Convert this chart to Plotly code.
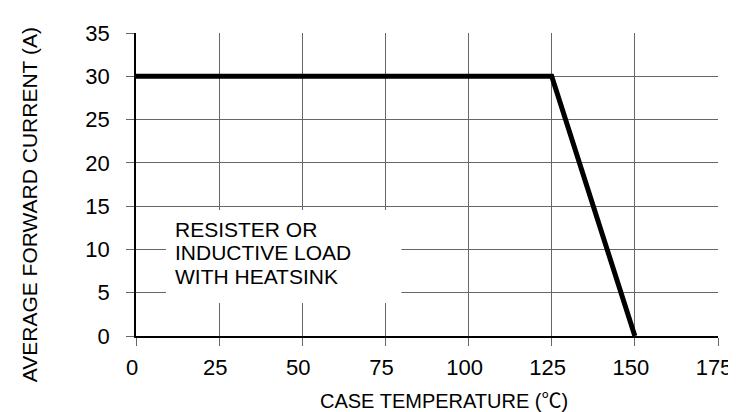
import plotly.graph_objects as go

# Data
temperature = [0, 125, 150]
current = [30, 30, 0]
x_ticks = [0, 25, 50, 75, 100, 125, 150, 175]
y_ticks = [0, 5, 10, 15, 20, 25, 30, 35]
note_lines = ["RESISTER OR", "INDUCTIVE LOAD", "WITH HEATSINK"]
note_y = [12.36, 9.59, 6.82]
x_title = "CASE TEMPERATURE (℃)"
y_title = "AVERAGE FORWARD CURRENT (A)"

FONT = "Liberation Sans, Arial, Noto Sans CJK SC, sans-serif"

fig = go.Figure()
fig.add_trace(go.Scatter(
    x=temperature, y=current, mode="lines",
    line=dict(color="black", width=5), showlegend=False,
    hoverinfo="skip"))

axis_common = dict(
    showgrid=True, gridcolor="#666666", gridwidth=1,
    showline=True, linecolor="black", linewidth=1.5,
    ticks="outside", ticklen=8, tickcolor="#666666", tickwidth=1,
    tickfont=dict(family=FONT, size=22, color="black"),
    zeroline=False, fixedrange=True,
)

fig.update_xaxes(range=[0, 175], tickvals=x_ticks, ticklabelstandoff=3,
                 ticklabelshift=-4, **axis_common)
fig.update_yaxes(range=[0, 35], tickvals=y_ticks, ticklabelstandoff=12, **axis_common)

# White box behind the note
fig.add_shape(type="rect", xref="x", yref="y", x0=9, x1=79.8, y0=3.8, y1=14.55,
              fillcolor="white", line=dict(width=0), layer="above")

for txt, yy in zip(note_lines, note_y):
    fig.add_annotation(x=11.1, y=yy, xref="x", yref="y", text=txt, showarrow=False,
                       xanchor="left", yanchor="middle",
                       font=dict(family=FONT, size=21, color="black"))

# Axis titles
fig.add_annotation(x=0.529, y=-0.2145, xref="paper", yref="paper", text=x_title,
                   showarrow=False, xanchor="center", yanchor="middle",
                   font=dict(family=FONT, size=20, color="black"))
fig.add_annotation(x=-0.1837, y=0.432, xref="paper", yref="paper", text=y_title,
                   showarrow=False, xanchor="center", yanchor="middle", textangle=-90,
                   font=dict(family=FONT, size=21, color="black"))

fig.update_layout(
    width=736, height=412,
    margin=dict(l=128, r=20, t=25, b=84),
    paper_bgcolor="white", plot_bgcolor="white",
    showlegend=False,
)

fig.write_html("out.html")
